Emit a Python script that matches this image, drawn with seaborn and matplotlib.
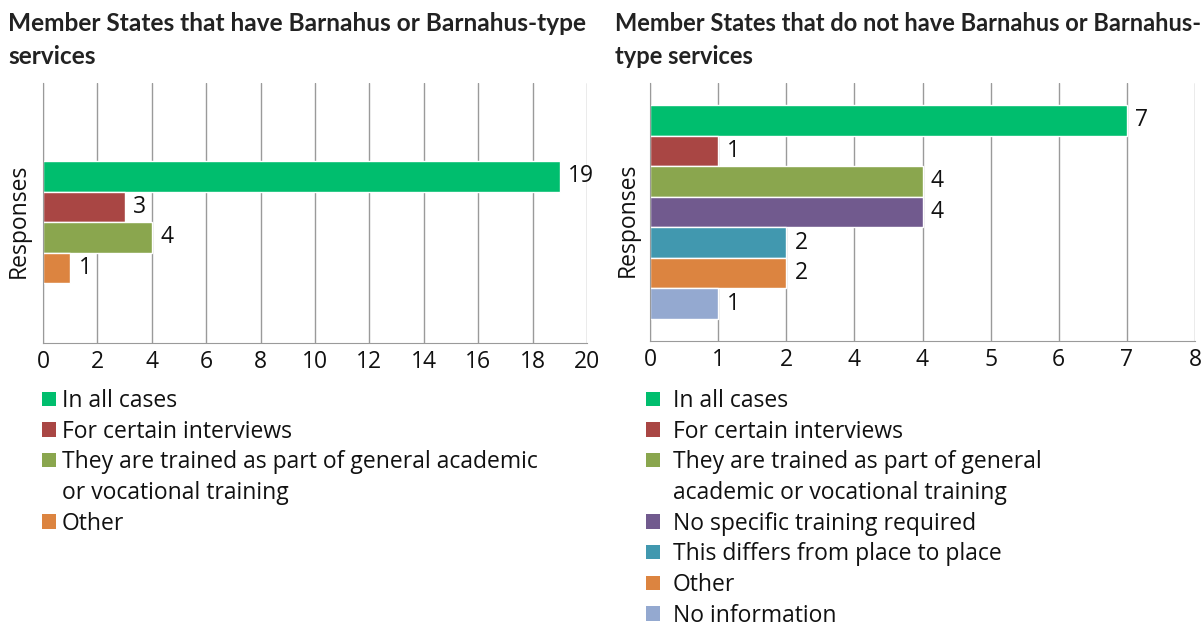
import matplotlib
matplotlib.use('Agg')
import matplotlib.pyplot as plt
from matplotlib.patches import Patch
import seaborn as sns
import pandas as pd

# ---- data ----
left_title = 'Member States that have Barnahus or Barnahus-type\nservices'
left_cats = ['In all cases', 'For certain interviews',
             'They are trained as part of general academic\nor vocational training', 'Other']
left_vals = [19, 3, 4, 1]
left_colors = ['#00BE6E', '#A94644', '#8AA64E', '#DC8440']
left_ticks = [0, 2, 4, 6, 8, 10, 12, 14, 16, 18, 20]
left_ticklabels = ['0', '2', '4', '6', '8', '10', '12', '14', '16', '18', '20']

right_title = 'Member States that do not have Barnahus or Barnahus-\ntype services'
right_cats = ['In all cases', 'For certain interviews',
              'They are trained as part of general\nacademic or vocational training',
              'No specific training required', 'This differs from place to place',
              'Other', 'No information']
right_vals = [7, 1, 4, 4, 2, 2, 1]
right_colors = ['#00BE6E', '#A94644', '#8AA64E', '#715A8E', '#4198AF', '#DC8440', '#94A9D0']
right_ticks = [0, 1, 2, 3, 4, 5, 6, 7, 8]
right_ticklabels = ['0', '1', '2', '4', '4', '5', '6', '7', '8']  # as printed in the original

sns.set_style('white')
plt.rcParams['font.family'] = ['Open Sans', 'DejaVu Sans']

FS = 16.5
GRID = '#9a9a9a'

fig = plt.figure(figsize=(12.02, 6.3), dpi=100)


def panel(rect, cats, vals, colors, ticks, ticklabels, width, ylim, title, title_x,
          title_fs, leg_x, leg_pad, ylab_x):
    ax = fig.add_axes(rect)
    df = pd.DataFrame({'group': ['Responses'] * len(cats), 'cat': cats, 'value': vals})
    sns.barplot(data=df, x='value', y='group', hue='cat', hue_order=cats,
                palette=colors, orient='h', width=width, dodge=True,
                saturation=1, legend=False, ax=ax)
    for c in ax.containers:
        ax.bar_label(c, padding=6, fontsize=FS, color='#111111')
    ax.set_xlim(ticks[0], ticks[-1])
    ax.set_ylim(*ylim)
    ax.set_xticks(ticks)
    ax.set_xticklabels(ticklabels, fontsize=FS, color='#111111')
    ax.set_yticks([])
    ax.set_xlabel('')
    ax.set_ylabel('Responses', fontsize=FS, color='#111111')
    ax.yaxis.set_label_coords(ylab_x, 0.47)
    ax.grid(axis='x', color=GRID, lw=1)
    ax.set_axisbelow(True)
    for s in ['top', 'right']:
        ax.spines[s].set_visible(False)
    for s in ['left', 'bottom']:
        ax.spines[s].set_color(GRID)
    ax.tick_params(axis='x', length=3, color=GRID, pad=2)

    fig.text(title_x, 1 - 12 / 630, title, fontsize=title_fs, fontweight='bold',
             family=['Lato', 'DejaVu Sans'],
             va='top', ha='left', color='#222222', linespacing=1.5)

    # legend: continuation lines get an empty handle so the square stays on the first line
    handles, labels = [], []
    for cat, col in zip(cats, colors):
        parts = cat.split('\n')
        handles.append(Patch(facecolor=col, edgecolor='none'))
        labels.append(parts[0])
        for p in parts[1:]:
            handles.append(Patch(facecolor='none', edgecolor='none'))
            labels.append(p)
    fig.legend(handles, labels, loc='upper left', bbox_to_anchor=(leg_x, 1 - 389 / 630),
               bbox_transform=fig.transFigure, frameon=False, fontsize=FS,
               labelcolor='#111111',
               handlelength=0.6, handleheight=0.6, handletextpad=leg_pad,
               labelspacing=0.29, borderpad=0, borderaxespad=0)
    return ax


panel([43 / 1202, 1 - 343 / 630, 544 / 1202, 260 / 630],
      left_cats, left_vals, left_colors, left_ticks, left_ticklabels,
      0.47, (0.465, -0.535), left_title, 8 / 1202, 17.6, 42 / 1202, 0.27, -0.023)

panel([650 / 1202, 1 - 341 / 630, 545 / 1202, 258 / 630],
      right_cats, right_vals, right_colors, right_ticks, right_ticklabels,
      0.83, (0.5, -0.5), right_title, 615 / 1202, 17, 646 / 1202, 0.58, -0.018)

fig.savefig('out.png', dpi=100)
